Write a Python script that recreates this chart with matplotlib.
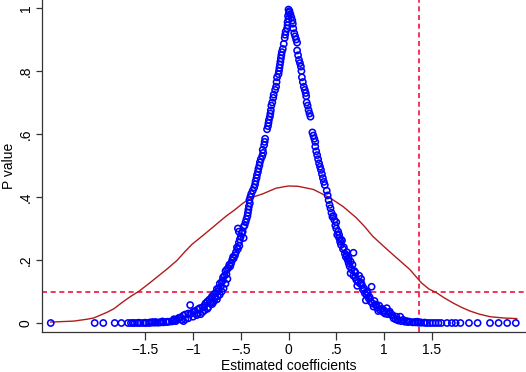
import matplotlib.pyplot as plt

plt.rcParams['font.family'] = ['Liberation Sans', 'DejaVu Sans']

# estimated coefficient / p value pairs
left_coef = [0.00, 0.005, -0.005, 0.0, -0.01, -0.01, -0.015, -0.03, -0.035, -0.04,
             -0.05, -0.06, -0.07, -0.075, -0.08, -0.085, -0.09, -0.095, -0.10, -0.105,
             -0.12, -0.125, -0.13, -0.14, -0.155, -0.16, -0.17, -0.18, -0.185, -0.19,
             -0.195, -0.205, -0.21, -0.215, -0.225, -0.245, -0.25, -0.255, -0.27, -0.265,
             -0.275, -0.29, -0.30, -0.305, -0.315, -0.32, -0.33, -0.335, -0.345, -0.35,
             -0.36, -0.375, -0.39, -0.40, -0.41, -0.405, -0.415, -0.42, -0.425, -0.43,
             -0.44, -0.45, -0.46, -0.47, -0.53, -0.52, -0.49, -0.50, -0.51, -0.52,
             -0.515, -0.53, -0.55, -0.56, -0.575, -0.59, -0.60, -0.62, -0.63, -0.645,
             -0.66, -0.65, -0.67, -0.685, -0.69, -0.70, -0.72, -0.71, -0.73, -0.75,
             -0.74, -0.76, -0.78, -0.80, -0.77, -0.81, -0.83, -0.85, -0.82, -0.87,
             -0.88, -0.90, -0.93, -0.95, -1.03, -0.98, -1.00, -1.05, -1.08, -1.10,
             -1.13, -1.15, -1.17, -1.20, -1.22, -1.25, -1.28, -1.31, -1.34, -1.37,
             -1.40, -1.43, -1.46, -1.49, -1.52, -1.55, -1.58, -1.61, -1.63, -1.68,
             -1.75, -1.82, -1.94, -2.03, -2.49,
             -0.95, -0.90, -0.85, -0.88, -0.80, -0.78, -0.75, -0.72, -0.70, -0.68,
             -0.66, -0.64, -1.12, -1.05, -1.00, -0.96, -1.18, -1.10, -0.92, -0.84,
             -0.79, -0.74, -0.61, -0.58, -0.54, -0.48, -0.47, -1.27, -1.35, -1.42,
             -1.50, -1.57, -1.65, -1.20, -1.32, -1.39, -1.45, -1.15, -1.08, -1.02]
left_p = [0.995, 0.985, 0.975, 0.965, 0.955, 0.945, 0.935, 0.925, 0.915, 0.905,
          0.886, 0.870, 0.860, 0.850, 0.840, 0.830, 0.820, 0.810, 0.800, 0.790,
          0.780, 0.765, 0.750, 0.740, 0.725, 0.715, 0.700, 0.690, 0.675, 0.665,
          0.655, 0.645, 0.635, 0.625, 0.615, 0.585, 0.575, 0.565, 0.550, 0.540,
          0.530, 0.520, 0.510, 0.500, 0.490, 0.480, 0.470, 0.460, 0.450, 0.440,
          0.430, 0.420, 0.410, 0.400, 0.390, 0.380, 0.370, 0.360, 0.350, 0.340,
          0.330, 0.320, 0.310, 0.305, 0.300, 0.290, 0.285, 0.275, 0.265, 0.255,
          0.245, 0.235, 0.225, 0.215, 0.205, 0.200, 0.190, 0.185, 0.175, 0.170,
          0.165, 0.155, 0.150, 0.145, 0.135, 0.130, 0.125, 0.115, 0.110, 0.108,
          0.100, 0.095, 0.092, 0.085, 0.082, 0.078, 0.074, 0.068, 0.065, 0.062,
          0.055, 0.050, 0.047, 0.043, 0.057, 0.038, 0.035, 0.030, 0.027, 0.024,
          0.018, 0.014, 0.011, 0.008, 0.005, 0.004, 0.003, 0.002, 0.002, 0.001,
          0.001, 0.001, 0.000, 0.000, 0.000, 0.000, 0.000, 0.000, 0.000, 0.000,
          0.000, 0.000, 0.000, 0.000, 0.000,
          0.030, 0.035, 0.045, 0.040, 0.060, 0.070, 0.075, 0.090, 0.100, 0.110,
          0.125, 0.140, 0.010, 0.015, 0.020, 0.025, 0.006, 0.006, 0.028, 0.050,
          0.065, 0.085, 0.180, 0.210, 0.240, 0.290, 0.270, 0.004, 0.002, 0.003,
          0.001, 0.001, 0.000, 0.012, 0.005, 0.003, 0.002, 0.016, 0.012, 0.030]

right_coef = [0.01, 0.02, 0.03, 0.04, 0.045, 0.05, 0.06, 0.07, 0.08, 0.09,
              0.09, 0.10, 0.11, 0.12, 0.13, 0.135, 0.14, 0.15, 0.16, 0.17,
              0.18, 0.185, 0.19, 0.20, 0.21, 0.22, 0.23, 0.25, 0.26, 0.27,
              0.28, 0.28, 0.29, 0.30, 0.31, 0.32, 0.33, 0.34, 0.35, 0.36,
              0.37, 0.38, 0.40, 0.41, 0.42, 0.43, 0.44, 0.45, 0.46, 0.48,
              0.49, 0.50, 0.52, 0.51, 0.53, 0.54, 0.55, 0.57, 0.59, 0.60,
              0.68, 0.62, 0.63, 0.64, 0.66, 0.65, 0.68, 0.70, 0.71, 0.73,
              0.75, 0.77, 0.72, 0.87, 0.78, 0.80, 0.82, 0.84, 0.81, 0.86,
              0.88, 0.91, 0.89, 0.93, 0.96, 0.94, 1.03, 0.99, 1.06, 1.01,
              1.09, 1.13, 1.06, 1.17, 1.20, 1.27, 1.12, 1.15, 1.18, 1.22,
              1.25, 1.30, 1.33, 1.36, 1.39, 1.42, 1.45, 1.48, 1.51, 1.54,
              1.57, 1.60, 1.66, 1.71, 1.75, 1.80, 1.89, 1.98, 2.11, 2.20,
              2.29, 2.38,
              0.47, 0.50, 0.53, 0.56, 0.58, 0.61, 0.63, 0.67, 0.69, 0.74,
              0.76, 0.79, 0.83, 0.85, 0.90, 0.95, 0.98, 1.00, 1.04, 1.08,
              1.10, 1.14, 0.55, 0.61, 0.65, 0.70, 0.76, 0.82, 0.92, 1.24,
              1.32, 1.38, 1.43, 1.35]
right_p = [0.990, 0.980, 0.970, 0.960, 0.950, 0.935, 0.920, 0.910, 0.900, 0.890,
           0.865, 0.850, 0.835, 0.825, 0.814, 0.800, 0.780, 0.765, 0.750, 0.740,
           0.730, 0.720, 0.700, 0.690, 0.676, 0.665, 0.655, 0.605, 0.595, 0.585,
           0.575, 0.560, 0.545, 0.533, 0.520, 0.507, 0.496, 0.486, 0.473, 0.460,
           0.448, 0.438, 0.420, 0.405, 0.390, 0.375, 0.364, 0.350, 0.337, 0.327,
           0.310, 0.300, 0.290, 0.280, 0.270, 0.258, 0.248, 0.235, 0.220, 0.210,
           0.223, 0.200, 0.190, 0.180, 0.170, 0.158, 0.150, 0.145, 0.137, 0.130,
           0.125, 0.120, 0.118, 0.115, 0.105, 0.094, 0.088, 0.078, 0.072, 0.068,
           0.062, 0.058, 0.052, 0.048, 0.041, 0.038, 0.047, 0.035, 0.036, 0.030,
           0.025, 0.020, 0.031, 0.020, 0.010, 0.004, 0.012, 0.008, 0.006, 0.004,
           0.003, 0.002, 0.002, 0.001, 0.001, 0.001, 0.000, 0.000, 0.000, 0.000,
           0.000, 0.000, 0.000, 0.000, 0.000, 0.000, 0.000, 0.000, 0.000, 0.000,
           0.000, 0.000,
           0.340, 0.320, 0.280, 0.262, 0.240, 0.215, 0.205, 0.185, 0.165, 0.150,
           0.140, 0.110, 0.095, 0.082, 0.070, 0.055, 0.045, 0.040, 0.028, 0.025,
           0.015, 0.010, 0.265, 0.225, 0.195, 0.160, 0.128, 0.100, 0.058, 0.006,
           0.003, 0.002, 0.001, 0.004]

# smoothed density drawn as the red curve
dens_x = [-2.49, -2.25, -2.11, -2.04, -1.90, -1.83, -1.73, -1.65, -1.57, -1.45,
          -1.36, -1.27, -1.17, -1.08, -1.01, -0.92, -0.82, -0.73, -0.65, -0.56,
          -0.47, -0.37, -0.27, -0.13, 0.00, 0.10, 0.26, 0.43, 0.57, 0.71,
          0.80, 0.88, 0.98, 1.09, 1.18, 1.27, 1.39, 1.47, 1.55, 1.63,
          1.72, 1.81, 1.90, 2.00, 2.11, 2.25, 2.39]
dens_y = [0.003, 0.006, 0.012, 0.016, 0.034, 0.045, 0.068, 0.085, 0.100, 0.128,
          0.150, 0.172, 0.198, 0.228, 0.250, 0.272, 0.297, 0.320, 0.340, 0.360,
          0.382, 0.400, 0.410, 0.428, 0.435, 0.434, 0.424, 0.398, 0.370, 0.334,
          0.305, 0.276, 0.248, 0.218, 0.194, 0.170, 0.128, 0.108, 0.096, 0.080,
          0.064, 0.050, 0.038, 0.028, 0.020, 0.016, 0.014]

xticks = [-1.5, -1, -0.5, 0, 0.5, 1, 1.5]
xtick_labels = ['\u22121.5', '\u22121', '\u2212.5', '0', '.5', '1', '1.5']
yticks = [0, 0.2, 0.4, 0.6, 0.8, 1]
ytick_labels = ['0', '.2', '.4', '.6', '.8', '1']
p_cut = 0.1
coef_cut = 1.37

fig = plt.figure(figsize=(5.26, 3.72), dpi=100)
ax = fig.add_axes([0.0805, 0.1075, 0.9195, 0.8925])

red = '#f0103c'
ax.axhline(p_cut, color=red, lw=1.2, ls=(0, (3, 2.2)), zorder=1)
ax.axvline(coef_cut, color=red, lw=1.2, ls=(0, (3, 2.2)), zorder=1)
ax.plot(dens_x, dens_y, color='#b01c1c', lw=1.0, zorder=2)
ax.scatter(left_coef + right_coef, left_p + right_p, s=20, facecolors='none',
           edgecolors='#0000ff', linewidths=1.15, zorder=3)

ax.set_xlim(-2.578, 2.487)
ax.set_ylim(-0.0286, 1.0254)
ax.set_xticks(xticks)
ax.set_xticklabels(xtick_labels, fontsize=10)
ax.set_yticks(yticks)
ax.set_yticklabels(ytick_labels, fontsize=10, rotation=90, va='center')
ax.tick_params(axis='x', length=6, width=0.9, pad=2, colors='#333333', labelcolor='black')
ax.tick_params(axis='y', length=4, width=0.9, pad=3, colors='#333333', labelcolor='black')
ax.spines['top'].set_visible(False)
ax.spines['right'].set_visible(False)
for s in ['left', 'bottom']:
    ax.spines[s].set_linewidth(0.9)
    ax.spines[s].set_color('#333333')

ax.set_xlabel('Estimated coefficients', fontsize=10, va='center')
ax.xaxis.set_label_coords(0.509, -0.101)
ax.set_ylabel('P value', fontsize=10, va='center')
ax.yaxis.set_label_coords(-0.068, 0.5)

fig.savefig('out.png', dpi=100)
